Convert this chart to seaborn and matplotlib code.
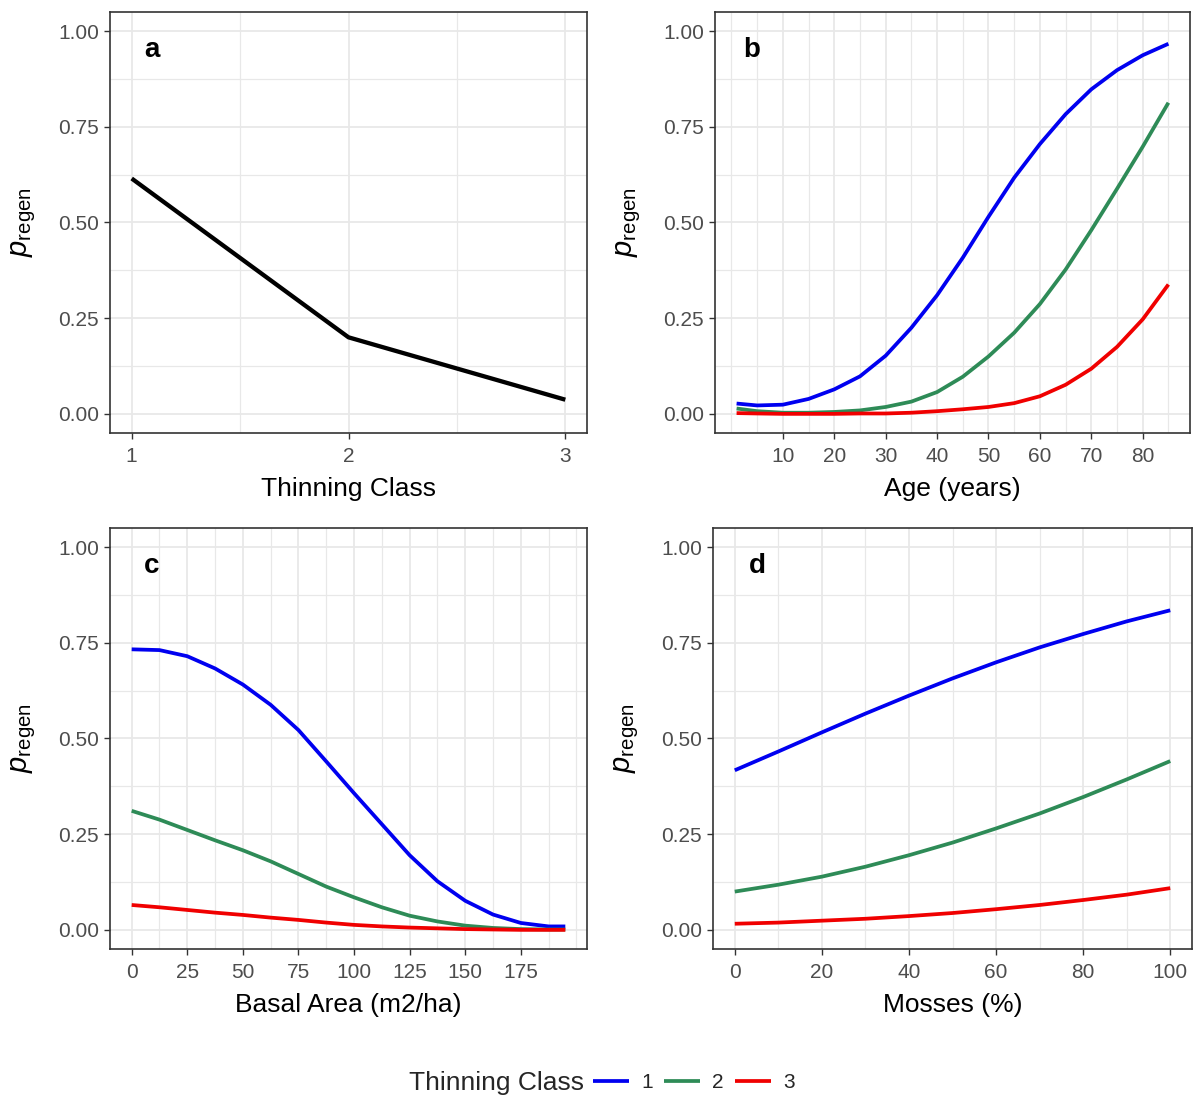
import numpy as np
import pandas as pd
import matplotlib
matplotlib.use("Agg")
import matplotlib.pyplot as plt
from matplotlib.ticker import FixedLocator
from matplotlib.lines import Line2D
import seaborn as sns

# ---- data -------------------------------------------------------------
classes = [1, 2, 3]
class_labels = ["1", "2", "3"]
palette = {1: "#0000F0", 2: "#2E8B57", 3: "#F00000"}

# (a) probability by thinning class
thin_x = [1, 2, 3]
thin_p = [0.615, 0.200, 0.037]

# (b) stand age (years)
age_x = [1, 5, 10, 15, 20, 25, 30, 35, 40, 45, 50, 55, 60, 65, 70, 75, 80, 85]
age_p1 = [0.027, 0.022, 0.024, 0.039, 0.064, 0.098, 0.152, 0.225, 0.310, 0.408,
          0.515, 0.617, 0.705, 0.783, 0.848, 0.898, 0.937, 0.967]
age_p2 = [0.014, 0.007, 0.003, 0.003, 0.005, 0.009, 0.018, 0.032, 0.057, 0.097,
          0.150, 0.212, 0.287, 0.377, 0.480, 0.588, 0.698, 0.813]
age_p3 = [0.002, 0.001, 0.000, 0.000, 0.000, 0.001, 0.001, 0.003, 0.007, 0.012,
          0.018, 0.028, 0.046, 0.076, 0.118, 0.175, 0.247, 0.338]

# (c) basal area (m2/ha)
ba_x = [0, 12.5, 25, 37.5, 50, 62.5, 75, 87.5, 100, 112.5, 125, 137.5, 150,
        162.5, 175, 187.5, 195]
ba_p1 = [0.733, 0.731, 0.715, 0.683, 0.641, 0.588, 0.522, 0.440, 0.357, 0.276,
         0.195, 0.127, 0.076, 0.040, 0.018, 0.009, 0.009]
ba_p2 = [0.311, 0.288, 0.261, 0.234, 0.208, 0.179, 0.146, 0.113, 0.085, 0.059,
         0.037, 0.022, 0.011, 0.005, 0.002, 0.001, 0.001]
ba_p3 = [0.065, 0.059, 0.052, 0.045, 0.039, 0.032, 0.026, 0.019, 0.013, 0.009,
         0.006, 0.004, 0.002, 0.001, 0.000, 0.000, 0.000]

# (d) moss cover (%)
moss_x = [0, 10, 20, 30, 40, 50, 60, 70, 80, 90, 100]
moss_p1 = [0.417, 0.466, 0.516, 0.565, 0.612, 0.657, 0.699, 0.738, 0.773, 0.806, 0.835]
moss_p2 = [0.100, 0.118, 0.139, 0.165, 0.195, 0.228, 0.265, 0.304, 0.347, 0.393, 0.441]
moss_p3 = [0.016, 0.019, 0.024, 0.029, 0.036, 0.044, 0.054, 0.065, 0.078, 0.092, 0.109]

y_ticks = [0.0, 0.25, 0.5, 0.75, 1.0]
y_tick_labels = ["0.00", "0.25", "0.50", "0.75", "1.00"]


def long_frame(x, series):
    rows = []
    for cls, vals in zip(classes, series):
        for xi, yi in zip(x, vals):
            rows.append((xi, yi, cls))
    return pd.DataFrame(rows, columns=["x", "p", "cls"])


df_age = long_frame(age_x, [age_p1, age_p2, age_p3])
df_ba = long_frame(ba_x, [ba_p1, ba_p2, ba_p3])
df_moss = long_frame(moss_x, [moss_p1, moss_p2, moss_p3])

# ---- style ------------------------------------------------------------
sns.set_style("white")
plt.rcParams["font.family"] = ["Liberation Sans", "DejaVu Sans"]
plt.rcParams["mathtext.fontset"] = "custom"
plt.rcParams["mathtext.rm"] = "Liberation Sans"
plt.rcParams["mathtext.it"] = "Liberation Sans:italic"
plt.rcParams["lines.solid_capstyle"] = "butt"

GRID = "#E8E8E8"
FRAME = "#333333"
TICKTXT = "#4D4D4D"
CURVE_LW = 2.7

fig = plt.figure(figsize=(11.94, 10.97), dpi=100)
W, H = 1194.0, 1097.0


def add_ax(left, top, right, bottom):
    return fig.add_axes([left / W, 1 - bottom / H, (right - left) / W, (bottom - top) / H])


ax_a = add_ax(110, 12, 587, 433)
ax_b = add_ax(715, 12, 1190, 433)
ax_c = add_ax(110, 528, 587, 949)
ax_d = add_ax(713, 528, 1192, 949)


def style_axis(ax, xlim, xmajor, xminor, xlabel, letter, letter_x):
    ax.set_xlim(*xlim)
    ax.set_ylim(-0.05, 1.05)
    ax.xaxis.set_major_locator(FixedLocator(xmajor))
    ax.xaxis.set_minor_locator(FixedLocator(xminor))
    ax.set_yticks(y_ticks)
    ax.set_yticklabels(y_tick_labels)
    ax.yaxis.set_minor_locator(FixedLocator([0.125, 0.375, 0.625, 0.875]))
    ax.set_axisbelow(True)
    ax.grid(which="major", color=GRID, lw=1.3)
    ax.grid(which="minor", color=GRID, lw=0.9)
    for s in ax.spines.values():
        s.set_color(FRAME)
        s.set_linewidth(1.2)
        s.set_visible(True)
    ax.tick_params(which="major", length=4, width=1.0, color=FRAME,
                   labelsize=15, labelcolor=TICKTXT, pad=4, direction="out",
                   bottom=True, left=True)
    ax.tick_params(axis="x", which="major", pad=6)
    ax.tick_params(which="minor", length=0)
    ax.set_xlabel(xlabel, fontsize=19, color="black", labelpad=8)
    ax.set_ylabel(r"$p_{\mathrm{regen}}$", fontsize=21, color="black", labelpad=14)
    ax.text(letter_x, 0.91, letter, transform=ax.transAxes, fontsize=20,
            fontweight="bold", ha="center", va="center", color="black")


# (a)
sns.lineplot(x=thin_x, y=thin_p, ax=ax_a, color="black", lw=3.1)
style_axis(ax_a, (0.9, 3.1), [1, 2, 3], [1.5, 2.5], "Thinning Class", "a", 0.088)
ax_a.set_xticklabels(["1", "2", "3"])

# (b)
sns.lineplot(data=df_age, x="x", y="p", hue="cls", palette=palette, ax=ax_b,
             lw=CURVE_LW, legend=False, sort=False)
style_axis(ax_b, (1 - 4.2, 85 + 4.2), list(range(10, 90, 10)),
           [0, 5, 15, 25, 35, 45, 55, 65, 75, 85], "Age (years)", "b", 0.078)

# (c)
sns.lineplot(data=df_ba, x="x", y="p", hue="cls", palette=palette, ax=ax_c,
             lw=CURVE_LW, legend=False, sort=False)
style_axis(ax_c, (-9.75, 204.75), list(range(0, 200, 25)),
           [12.5, 37.5, 62.5, 87.5, 112.5, 137.5, 162.5, 187.5, 200],
           "Basal Area (m2/ha)", "c", 0.088)

# (d)
sns.lineplot(data=df_moss, x="x", y="p", hue="cls", palette=palette, ax=ax_d,
             lw=CURVE_LW, legend=False, sort=False)
style_axis(ax_d, (-5, 105), [0, 20, 40, 60, 80, 100], [10, 30, 50, 70, 90],
           "Mosses (%)", "d", 0.092)

# shared legend along the bottom
leg_y = 1 - 1083 / H
fig.text(584 / W, leg_y, "Thinning Class", ha="right", va="center", fontsize=19)
handles = [Line2D([0], [0], color=palette[c], lw=CURVE_LW) for c in classes]
fig.legend(handles, class_labels, loc="center left", bbox_to_anchor=(593 / W, leg_y),
           ncol=3, frameon=False, fontsize=15, borderpad=0, borderaxespad=0,
           handlelength=1.75, handletextpad=0.55, columnspacing=0.55)

fig.savefig("out.png", dpi=100, facecolor="white")
